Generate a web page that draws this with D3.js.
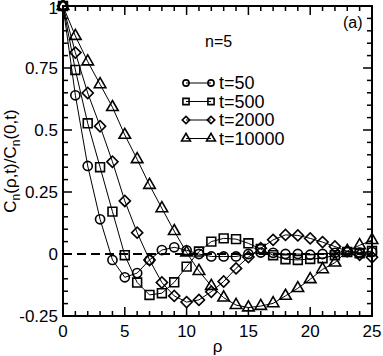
<!DOCTYPE html>
<html>
<head>
<meta charset="utf-8">
<script src="https://cdn.jsdelivr.net/npm/d3@7"></script>
<style>
  body { margin: 0; background: #fff; }
  text { font-family: "Liberation Sans", Arial, Helvetica, sans-serif; fill: #000; }
</style>
</head>
<body>
<div id="chart"></div>
<script>
// Data: rho = 0..25
const rho = d3.range(0, 26);
const t50 = [1, 0.64, 0.355, 0.14, -0.024, -0.094, -0.077, -0.024, 0.016, 0.027, 0.015,
  0.0, -0.01, -0.01, -0.01, 0.0, 0.006, 0.005, 0.0, 0.0, -0.003, 0.0, 0.005, 0.01, 0.006, 0.008];
const t500 = [1, 0.742, 0.527, 0.35, 0.171, -0.005, -0.115, -0.165, -0.158, -0.114, -0.051,
  0.01, 0.05, 0.063, 0.06, 0.043, 0.02, -0.005, -0.021, -0.024, -0.02, -0.017, -0.005, 0.008, 0.003, 0.012];
const t2000 = [1, 0.812, 0.649, 0.515, 0.372, 0.214, 0.086, -0.024, -0.115, -0.169, -0.194,
  -0.185, -0.152, -0.111, -0.058, -0.012, 0.023, 0.057, 0.077, 0.075, 0.063, 0.048, 0.03, 0.011, -0.003, -0.013];
const t10000 = [1, 0.879, 0.776, 0.684, 0.592, 0.48, 0.382, 0.278, 0.184, 0.092, 0.006,
  -0.069, -0.129, -0.176, -0.206, -0.216, -0.21, -0.199, -0.169, -0.138, -0.102, -0.062, -0.035, 0.012, 0.035, 0.056];

const seriesNames = ["t=50", "t=500", "t=2000", "t=10000"];
const xTicks = [0, 5, 10, 15, 20, 25];
const yTicks = [-0.25, 0, 0.25, 0.5, 0.75, 1];

const W = 383, H = 356;
const margin = { top: 6, right: 11, bottom: 40, left: 63 };
const width = W - margin.left - margin.right;
const height = H - margin.top - margin.bottom;

const svg = d3.select("#chart").append("svg")
  .attr("width", W).attr("height", H);
const g = svg.append("g").attr("transform", `translate(${margin.left},${margin.top})`);

const x = d3.scaleLinear().domain([0, 25]).range([0, width]);
const y = d3.scaleLinear().domain([-0.25, 1]).range([height, 0]);

// symbols: circle, square, diamond, triangle
const symTypes = [d3.symbolCircle, d3.symbolSquare, d3.symbolSquare, d3.symbolTriangle];
const symRot = [0, 0, 45, 0];
const symSize = [66, 78, 62, 58];
const legSize = [30, 38, 28, 34];

const series = [t50, t500, t2000, t10000].map((vals, i) => ({
  name: seriesNames[i],
  points: vals.map((v, k) => ({ x: rho[k], y: v }))
}));

// zero line
g.append("line")
  .attr("x1", x(0)).attr("x2", x(25))
  .attr("y1", y(0)).attr("y2", y(0))
  .attr("stroke", "#000").attr("stroke-width", 2.2)
  .attr("stroke-dasharray", "9,5");

const line = d3.line().x(d => x(d.x)).y(d => y(d.y));

series.forEach((s, i) => {
  g.append("path").datum(s.points)
    .attr("d", line)
    .attr("fill", "none").attr("stroke", "#000").attr("stroke-width", 1);
  g.selectAll(".sym" + i).data(s.points).enter()
    .append("path")
    .attr("class", "sym" + i)
    .attr("d", d3.symbol().type(symTypes[i]).size(symSize[i]))
    .attr("transform", d => `translate(${x(d.x)},${y(d.y)}) rotate(${symRot[i]})`)
    .attr("fill", "none").attr("stroke", "#000").attr("stroke-width", 1.6);
});

// frame
g.append("rect").attr("width", width).attr("height", height)
  .attr("fill", "none").attr("stroke", "#000").attr("stroke-width", 2);

// ticks, inward on all four sides
const xMinor = d3.range(0, 26, 1);
const yMinor = d3.range(-0.25, 1.0001, 0.05);
const tk = g.append("g").attr("stroke", "#000").attr("stroke-width", 1.5);
xMinor.forEach(v => {
  const len = v % 5 === 0 ? 9 : 5;
  tk.append("line").attr("x1", x(v)).attr("x2", x(v)).attr("y1", height).attr("y2", height - len);
  tk.append("line").attr("x1", x(v)).attr("x2", x(v)).attr("y1", 0).attr("y2", len);
});
yMinor.forEach(v => {
  const major = Math.abs(Math.round(v / 0.25) * 0.25 - v) < 1e-6;
  const len = major ? 9 : 5;
  tk.append("line").attr("y1", y(v)).attr("y2", y(v)).attr("x1", 0).attr("x2", len);
  tk.append("line").attr("y1", y(v)).attr("y2", y(v)).attr("x1", width).attr("x2", width - len);
});

// tick labels
g.selectAll(".xl").data(xTicks).enter().append("text")
  .attr("x", d => x(d)).attr("y", height + 21)
  .attr("text-anchor", "middle").attr("font-size", 17)
  .text(d => d);
g.selectAll(".yl").data(yTicks).enter().append("text")
  .attr("x", -5).attr("y", d => Math.max(y(d) + 6, 8 - margin.top + 6))
  .attr("text-anchor", "end").attr("font-size", 17)
  .text(d => d);

// axis labels
svg.append("text").attr("x", margin.left + width / 2).attr("y", 352)
  .attr("text-anchor", "middle").attr("font-size", 17).text("ρ");

const yl = svg.append("text")
  .attr("transform", `translate(16,${margin.top + height / 2}) rotate(-90)`)
  .attr("text-anchor", "middle").attr("font-size", 17);
yl.append("tspan").text("C");
yl.append("tspan").attr("dy", 4).attr("font-size", 12).text("n");
yl.append("tspan").attr("dy", -4).text("(ρ,t)/C");
yl.append("tspan").attr("dy", 4).attr("font-size", 12).text("n");
yl.append("tspan").attr("dy", -4).text("(0,t)");

// annotations
svg.append("text").attr("x", 205).attr("y", 47).attr("font-size", 16).text("n=5");
svg.append("text").attr("x", 343).attr("y", 28).attr("font-size", 16).text("(a)");

// legend
const legY = [83, 101.5, 120, 138.5];
const leg = svg.append("g");
series.forEach((s, i) => {
  const ly = legY[i];
  leg.append("line").attr("x1", 186).attr("x2", 211).attr("y1", ly).attr("y2", ly)
    .attr("stroke", "#000").attr("stroke-width", 1);
  [186, 211].forEach(lx => {
    leg.append("path")
      .attr("d", d3.symbol().type(symTypes[i]).size(legSize[i]))
      .attr("transform", `translate(${lx},${ly}) rotate(${symRot[i]})`)
      .attr("fill", "none").attr("stroke", "#000").attr("stroke-width", 1.6);
  });
  leg.append("text").attr("x", 219).attr("y", ly + 6).attr("font-size", 18).text(s.name);
});
</script>
</body>
</html>
